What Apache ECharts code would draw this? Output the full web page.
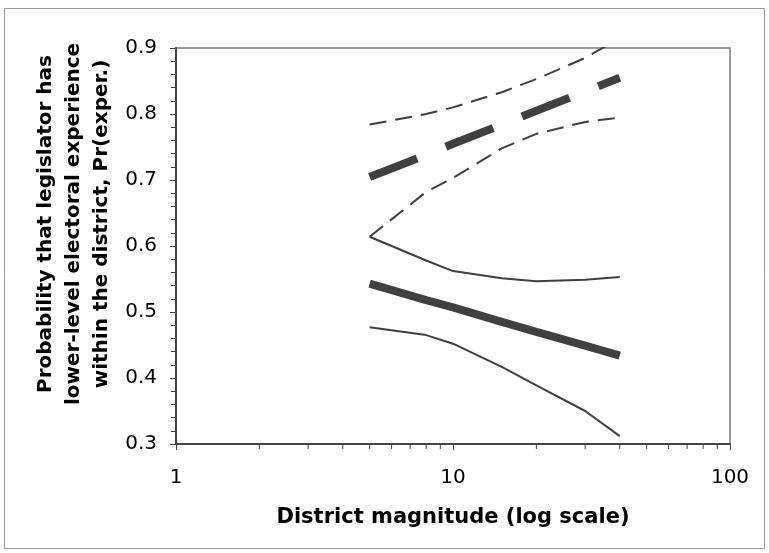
<!DOCTYPE html>
<html><head><meta charset="utf-8">
<script src="https://cdn.jsdelivr.net/npm/echarts@6/dist/echarts.min.js"></script>
<style>html,body{margin:0;padding:0;background:#fff}#c{width:769px;height:553px}</style>
</head><body><div id="c"></div>
<script>
// District magnitude values (x) at which predictions are plotted
const magnitudes = [5, 8, 10, 15, 20, 30, 40];
// Solid group: mean and confidence bounds
const solidMean  = [0.543, 0.518, 0.507, 0.485, 0.470, 0.449, 0.434];
const solidUpper = [0.614, 0.578, 0.562, 0.551, 0.5465, 0.549, 0.553];
const solidLower = [0.477, 0.465, 0.452, 0.417, 0.389, 0.350, 0.312];
// Dashed group: mean and confidence bounds
const dashMean  = [0.7045, 0.738, 0.755, 0.784, 0.805, 0.834, 0.855];
const dashUpper = [0.784, 0.800, 0.810, 0.833, 0.853, 0.885, 0.915];
const dashLower = [0.614, 0.682, 0.703, 0.748, 0.770, 0.788, 0.7945];
// Minor log ticks on x axis
const xMinorTicks = [2,3,4,5,6,7,8,9,20,30,40,50,60,70,80,90];

const LINE = '#404040';
const FONT = '"DejaVu Sans", Verdana, sans-serif';
const pairs = arr => magnitudes.map((m, i) => [m, arr[i]]);

function lineSeries(arr, width, dash) {
  return {
    type: 'line', data: pairs(arr), symbol: 'none', silent: true,
    lineStyle: { color: LINE, width: width, type: dash || 'solid', cap: 'butt' },
    clip: true, z: 3
  };
}

const chart = echarts.init(document.getElementById('c'), null, { renderer: 'canvas' });
chart.setOption({
  animation: false,
  backgroundColor: '#fff',
  grid: { left: 176, top: 48, right: 39, bottom: 109, show: true, borderColor: '#9a9a9a', borderWidth: 2, backgroundColor: 'transparent' },
  xAxis: {
    type: 'log', logBase: 10, min: 1, max: 100,
    name: 'District magnitude (log scale)', nameLocation: 'middle', nameGap: 63,
    nameTextStyle: { fontFamily: FONT, fontSize: 21, fontWeight: 'bold', color: '#000' },
    axisLine: { show: true, onZero: false, lineStyle: { color: '#444', width: 2 } },
    axisTick: { show: true, inside: false, length: 6, lineStyle: { color: '#444', width: 1 } },
    axisLabel: { fontFamily: FONT, fontSize: 20, color: '#000', margin: 24 },
    splitLine: { show: false }
  },
  yAxis: {
    type: 'value', min: 0.3, max: 0.9, interval: 0.1,
    axisLine: { show: true, onZero: false, lineStyle: { color: '#444', width: 2 } },
    axisTick: { show: true, inside: false, length: 6, lineStyle: { color: '#444', width: 1 } },
    minorTick: { show: true, splitNumber: 5, length: 5, lineStyle: { color: '#444', width: 1 } },
    axisLabel: { fontFamily: FONT, fontSize: 20, color: '#000', margin: 19, formatter: v => v.toFixed(1) },
    splitLine: { show: false }
  },
  graphic: [
    { type: 'rect', shape: { x: 4.5, y: 8.5, width: 760, height: 540 }, style: { fill: 'none', stroke: '#999', lineWidth: 1 }, silent: true, z: -1 },
    { type: 'text', x: 74, y: 224, rotation: Math.PI / 2,
      style: { text: 'Probability that legislator has\nlower-level electoral experience\nwithin the district, Pr(exper.)',
        font: 'bold 20px ' + FONT, align: 'center', verticalAlign: 'middle', lineHeight: 28, fill: '#000' } }
  ],
  series: [
    lineSeries(solidUpper, 2),
    lineSeries(solidLower, 2),
    lineSeries(solidMean, 8),
    lineSeries(dashUpper, 2, [17, 9]),
    lineSeries(dashLower, 2, [17, 9]),
    lineSeries(dashMean, 8, [51, 31]),
    {
      type: 'custom', clip: false, silent: true, z: 5,
      data: xMinorTicks.map(v => [v, 0.3]),
      renderItem: function (params, api) {
        const p = api.coord([api.value(0), api.value(1)]);
        return { type: 'line', shape: { x1: p[0], y1: p[1], x2: p[0], y2: p[1] + 5 },
          style: { stroke: '#444', lineWidth: 1 } };
      }
    }
  ]
});
</script></body></html>
